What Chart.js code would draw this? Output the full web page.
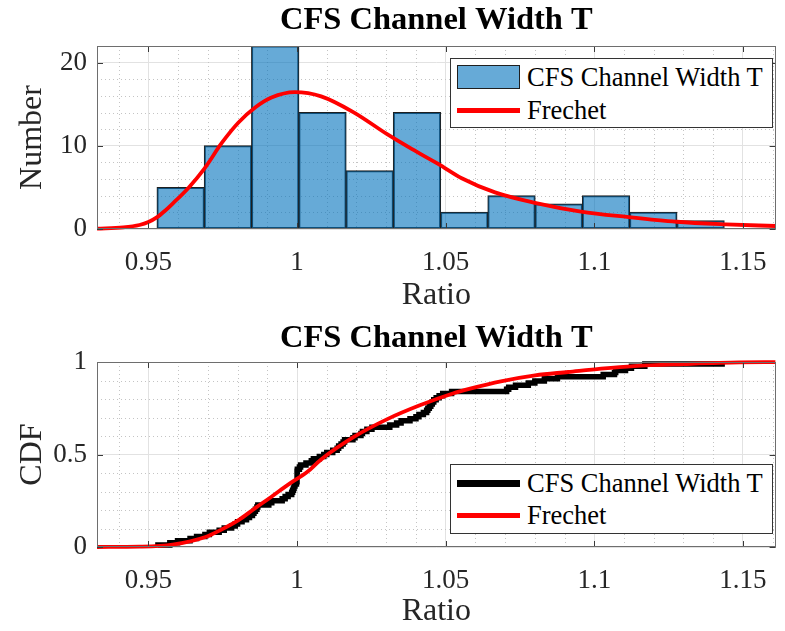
<!DOCTYPE html>
<html>
<head>
<meta charset="utf-8">
<script src="https://cdn.jsdelivr.net/npm/chart.js@4.4.1/dist/chart.umd.min.js"></script>
<style>
body { margin: 0; background: #fff; }
#wrap { position: relative; width: 785px; height: 631px; background: #fff; }
canvas { position: absolute; left: 0; }
.legend { position: absolute; left: 450px; width: 321px; height: 68px; border: 1px solid #333; background: #fff; }
.row { position: absolute; left: 6px; height: 30px; display: flex; align-items: center;
  font-family: "Liberation Serif", "Times New Roman", serif; font-size: 26.5px; color: #000; white-space: nowrap; }
.sw { width: 63px; margin-right: 7px; box-sizing: border-box; flex: none; }
</style>
</head>
<body>
<div id="wrap">
  <canvas id="histChart" width="785" height="315" style="top:0"></canvas>
  <canvas id="cdfChart" width="785" height="316" style="top:315px"></canvas>
  <div class="legend" style="top:58px">
    <div class="row" style="top:3px"><div class="sw" style="height:24px;background:rgba(0,114,189,0.6);border:1px solid #1f1f1f"></div>CFS Channel Width T</div>
    <div class="row" style="top:36px"><div class="sw" style="height:5px;background:#ff0000"></div>Frechet</div>
  </div>
  <div class="legend" style="top:464px">
    <div class="row" style="top:3px"><div class="sw" style="height:7px;background:#000"></div>CFS Channel Width T</div>
    <div class="row" style="top:35px"><div class="sw" style="height:5px;background:#ff0000"></div>Frechet</div>
  </div>
</div>
<script>
'use strict';
Chart.defaults.font.family = "'Liberation Serif', 'Times New Roman', serif";

// axes
const xRange = [0.9327, 1.161];
const xTicks = [0.95, 1, 1.05, 1.1, 1.15];
const xTickLabels = ['0.95', '1', '1.05', '1.1', '1.15'];
const countTicks = [0, 10, 20];
const countTickLabels = ['0', '10', '20'];
const cdfTicks = [0, 0.5, 1];
const cdfTickLabels = ['0', '0.5', '1'];

// histogram
const binEdges = [0.9529, 0.9688, 0.9847, 1.0006, 1.0165, 1.0324, 1.0483,
  1.0642, 1.0801, 1.0960, 1.1119, 1.1278, 1.1437];
const binCounts = [5, 10, 22, 14, 7, 14, 2, 4, 3, 4, 2, 1];

// fitted Frechet density, scaled to counts
const pdfX = [0.9327, 0.9415, 0.9470, 0.9500, 0.9528, 0.9556, 0.9580, 0.9636, 0.9687, 0.9748,
  0.9803, 0.9859, 0.9914, 0.9992, 1.0081, 1.0192, 1.0303, 1.0387, 1.0476, 1.0554,
  1.0666, 1.0800, 1.0955, 1.1110, 1.1276, 1.1443, 1.1610];
const pdfY = [0.04, 0.2, 0.48, 0.83, 1.39, 2.2, 3.0, 5.0, 7.2, 10.4,
  12.8, 14.6, 15.8, 16.45, 15.95, 14.0, 11.4, 9.6, 7.8, 6.1,
  4.4, 3.15, 2.1, 1.45, 0.87, 0.56, 0.36];

// observed ratios (sorted)
const samples = [
  0.9532, 0.9572, 0.9598, 0.9640, 0.9662,
  0.9690, 0.9705, 0.9738, 0.9755, 0.9780, 0.9792, 0.9800, 0.9815, 0.9830, 0.9840,
  0.9850, 0.9855, 0.9860, 0.9865, 0.9868, 0.9905, 0.9915, 0.9950, 0.9960, 0.9970,
  0.9982, 0.9985, 0.9988, 0.9990, 0.9993, 0.9998, 1.0000, 1.0000, 1.0000, 1.0000,
  1.0000, 1.0001,
  1.0008, 1.0012, 1.0030, 1.0048, 1.0055, 1.0075, 1.0090, 1.0100, 1.0120, 1.0135,
  1.0140, 1.0148, 1.0155, 1.0160,
  1.0188, 1.0195, 1.0215, 1.0220, 1.0235, 1.0252, 1.0312,
  1.0335, 1.0350, 1.0380, 1.0400, 1.0410, 1.0425, 1.0436, 1.0440, 1.0445, 1.0450,
  1.0455, 1.0460, 1.0468, 1.0478,
  1.0490, 1.0520,
  1.0705, 1.0712, 1.0735, 1.0778,
  1.0800, 1.0832, 1.0876,
  1.1030, 1.1068, 1.1072, 1.1105,
  1.1125, 1.1170,
  1.1430
];

// fitted Frechet CDF
const cdfFitX = [0.9327, 0.9470, 0.9581, 0.9692, 0.9747, 0.9803, 0.9858, 0.9914, 0.9969,
  1.0036, 1.0080, 1.0191, 1.0302, 1.0413, 1.0524, 1.0579, 1.0690, 1.0801, 1.0912,
  1.1023, 1.1133, 1.1300, 1.1488, 1.1610];
const cdfFitY = [0.0, 0.002, 0.013, 0.054, 0.095, 0.145, 0.209, 0.272, 0.336,
  0.408, 0.472, 0.595, 0.69, 0.766, 0.83, 0.855, 0.897, 0.928, 0.946,
  0.964, 0.978, 0.989, 0.998, 0.999];

const binCenters = binCounts.map((c, i) => (binEdges[i] + binEdges[i + 1]) / 2);
const ecdf = [{x: samples[0], y: 0}].concat(
  samples.map((s, i) => ({x: s, y: (i + 1) / samples.length})));

const minorX = [];
for (let k = 94; k <= 116; k++) minorX.push(k / 100);

// dotted minor grid, box and inward ticks like the original figure
const frame = {
  id: 'frame',
  beforeDatasetsDraw(chart, args, o) {
    const {ctx, chartArea: a, scales: {x, y}} = chart;
    const isMajor = (v, list) => list.some(t => Math.abs(t - v) < 1e-9);
    ctx.save();
    ctx.strokeStyle = '#c4c4c4';
    ctx.lineWidth = 1;
    ctx.setLineDash([1, 3]);
    ctx.beginPath();
    minorX.forEach(v => {
      if (isMajor(v, xTicks)) return;
      const px = Math.round(x.getPixelForValue(v)) + 0.5;
      if (px <= a.left || px >= a.right) return;
      ctx.moveTo(px, a.top); ctx.lineTo(px, a.bottom);
    });
    o.minorY.forEach(v => {
      if (isMajor(v, o.majorY)) return;
      const py = Math.round(y.getPixelForValue(v)) + 0.5;
      if (py <= a.top || py >= a.bottom) return;
      ctx.moveTo(a.left, py); ctx.lineTo(a.right, py);
    });
    ctx.stroke();
    ctx.restore();
  },
  afterDatasetsDraw(chart, args, o) {
    const {ctx, chartArea: a, scales: {x, y}} = chart;
    ctx.save();
    ctx.strokeStyle = '#3a3a3a';
    ctx.lineWidth = 1;
    ctx.beginPath();
    xTicks.forEach(v => {
      const px = Math.round(x.getPixelForValue(v)) + 0.5;
      ctx.moveTo(px, a.bottom); ctx.lineTo(px, a.bottom - 6);
      ctx.moveTo(px, a.top); ctx.lineTo(px, a.top + 6);
    });
    o.majorY.forEach(v => {
      const py = Math.round(y.getPixelForValue(v)) + 0.5;
      ctx.moveTo(a.left, py); ctx.lineTo(a.left + 6, py);
      ctx.moveTo(a.right, py); ctx.lineTo(a.right - 6, py);
    });
    ctx.stroke();
    ctx.strokeStyle = '#6e6e6e';
    ctx.strokeRect(Math.round(a.left) + 0.5, Math.round(a.top) + 0.5,
      Math.round(a.width) - 1, Math.round(a.height) - 1);
    ctx.restore();
  }
};

function axes(yMax, yTicks, yLabels, yTitle, xHeight) {
  return {
    x: {
      type: 'linear', min: xRange[0], max: xRange[1], offset: false,
      afterBuildTicks: s => { s.ticks = xTicks.map(v => ({value: v})); },
      afterFit: s => { s.height = xHeight; },
      ticks: { callback: (v, i) => xTickLabels[i], padding: 18, font: {size: 27}, color: '#262626',
        maxRotation: 0, autoSkip: false },
      grid: { color: '#e2e2e2', drawTicks: false, offset: false },
      border: { display: false },
      title: { display: true, text: 'Ratio', font: {size: 32}, color: '#262626', padding: {top: 0, bottom: 0} }
    },
    y: {
      type: 'linear', min: 0, max: yMax,
      afterBuildTicks: s => { s.ticks = yTicks.map(v => ({value: v})); },
      afterFit: s => { s.width = 97; },
      ticks: { callback: (v, i) => yLabels[i], padding: 10, font: {size: 27}, color: '#262626' },
      grid: { color: '#e2e2e2', drawTicks: false },
      border: { display: false },
      title: { display: true, text: yTitle, font: {size: 32}, color: '#262626', padding: {top: 13, bottom: 0} }
    }
  };
}

function titleOpts(top, bottom) {
  return {
    display: true, text: 'CFS Channel Width T', fullSize: false,
    font: {size: 32.5, weight: 'bold'}, color: '#000', padding: {top: top, bottom: bottom}
  };
}

const lineClip = {left: 0, right: 0, top: 4, bottom: 4};

new Chart(document.getElementById('histChart'), {
  type: 'line',
  data: {
    datasets: [{
      type: 'line', label: 'Frechet', order: 0, clip: lineClip,
      data: pdfX.map((v, i) => ({x: v, y: pdfY[i]})),
      borderColor: '#ff0000', borderWidth: 3.8, pointRadius: 0,
      cubicInterpolationMode: 'monotone', fill: false
    }, {
      type: 'bar', label: 'CFS Channel Width T', order: 1,
      data: binCenters.map((c, i) => ({x: c, y: binCounts[i]})),
      backgroundColor: 'rgba(0,114,189,0.6)', borderColor: '#1f1f1f',
      borderWidth: 1, borderSkipped: false, inflateAmount: 0.5,
      barPercentage: 1, categoryPercentage: 1
    }]
  },
  options: {
    responsive: false, animation: false, devicePixelRatio: 1,
    layout: { padding: {left: 0, right: 2, top: 0, bottom: 0} },
    scales: axes(22, countTicks, countTickLabels, 'Number', 86),
    plugins: {
      legend: { display: false }, tooltip: { enabled: false },
      title: titleOpts(1, 6),
      frame: { majorY: countTicks, minorY: [2, 4, 6, 8, 12, 14, 16, 18, 22] }
    }
  },
  plugins: [frame]
});

new Chart(document.getElementById('cdfChart'), {
  type: 'line',
  data: {
    datasets: [{
      label: 'Frechet', order: 0, clip: lineClip,
      data: cdfFitX.map((v, i) => ({x: v, y: cdfFitY[i]})),
      borderColor: '#ff0000', borderWidth: 3.8, pointRadius: 0,
      cubicInterpolationMode: 'monotone', fill: false
    }, {
      label: 'CFS Channel Width T', order: 1, clip: lineClip,
      data: ecdf, stepped: 'before',
      borderColor: '#000', borderWidth: 5.5, pointRadius: 0, fill: false
    }]
  },
  options: {
    responsive: false, animation: false, devicePixelRatio: 1,
    layout: { padding: {left: 0, right: 2, top: 0, bottom: 0} },
    scales: axes(1, cdfTicks, cdfTickLabels, 'CDF', 84),
    plugins: {
      legend: { display: false }, tooltip: { enabled: false },
      title: titleOpts(4, 4),
      frame: { majorY: cdfTicks, minorY: [0.1, 0.2, 0.3, 0.4, 0.6, 0.7, 0.8, 0.9] }
    }
  },
  plugins: [frame]
});
</script>
</body>
</html>
